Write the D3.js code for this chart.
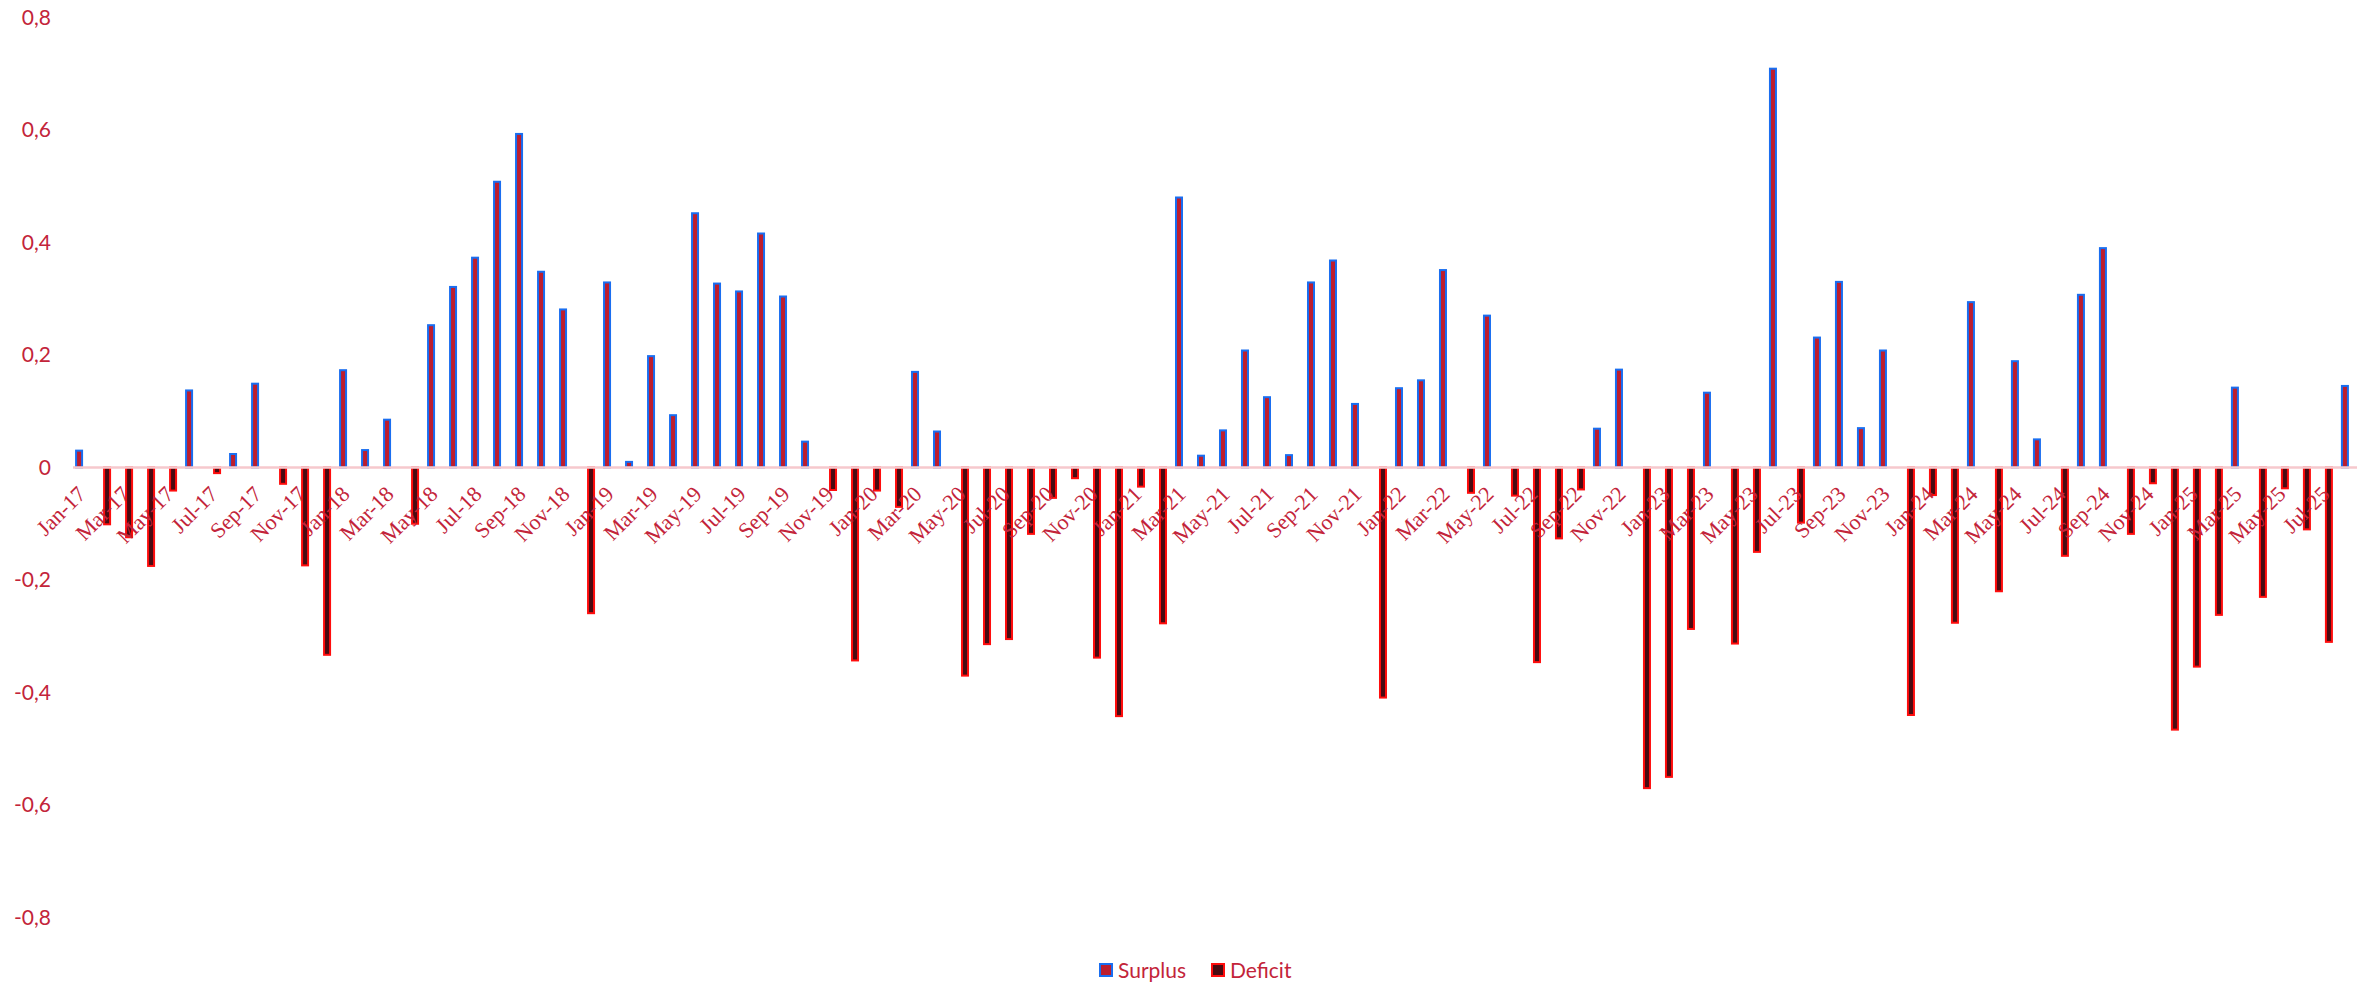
<!DOCTYPE html>
<html>
<head>
<meta charset="utf-8">
<script src="https://cdn.jsdelivr.net/npm/d3@7/dist/d3.min.js"></script>
<style>
  html, body { margin: 0; padding: 0; background: #ffffff; }
  svg { display: block; }
</style>
</head>
<body>
<svg id="chart" width="2374" height="983"></svg>
<script>
// Monthly categories, Jan 2017 – Aug 2025
const months = [
  "Jan-17","Feb-17","Mar-17","Apr-17","May-17","Jun-17","Jul-17","Aug-17","Sep-17","Oct-17","Nov-17","Dec-17",
  "Jan-18","Feb-18","Mar-18","Apr-18","May-18","Jun-18","Jul-18","Aug-18","Sep-18","Oct-18","Nov-18","Dec-18",
  "Jan-19","Feb-19","Mar-19","Apr-19","May-19","Jun-19","Jul-19","Aug-19","Sep-19","Oct-19","Nov-19","Dec-19",
  "Jan-20","Feb-20","Mar-20","Apr-20","May-20","Jun-20","Jul-20","Aug-20","Sep-20","Oct-20","Nov-20","Dec-20",
  "Jan-21","Feb-21","Mar-21","Apr-21","May-21","Jun-21","Jul-21","Aug-21","Sep-21","Oct-21","Nov-21","Dec-21",
  "Jan-22","Feb-22","Mar-22","Apr-22","May-22","Jun-22","Jul-22","Aug-22","Sep-22","Oct-22","Nov-22","Dec-22",
  "Jan-23","Feb-23","Mar-23","Apr-23","May-23","Jun-23","Jul-23","Aug-23","Sep-23","Oct-23","Nov-23","Dec-23",
  "Jan-24","Feb-24","Mar-24","Apr-24","May-24","Jun-24","Jul-24","Aug-24","Sep-24","Oct-24","Nov-24","Dec-24",
  "Jan-25","Feb-25","Mar-25","Apr-25","May-25","Jun-25","Jul-25","Aug-25"
];

// Positive months (0 where the month was in deficit)
const surplus = [
  0.030, 0, 0, 0, 0, 0.137, 0, 0.024, 0.149, 0, 0, 0,
  0.173, 0.031, 0.085, 0, 0.253, 0.321, 0.373, 0.508, 0.593, 0.348, 0.281, 0,
  0.329, 0.010, 0.198, 0.093, 0.452, 0.327, 0.313, 0.416, 0.304, 0.046, 0, 0,
  0, 0, 0.170, 0.064, 0, 0, 0, 0, 0, 0, 0, 0,
  0, 0, 0.480, 0.021, 0.066, 0.208, 0.125, 0.022, 0.329, 0.368, 0.113, 0,
  0.141, 0.155, 0.351, 0, 0.270, 0, 0, 0, 0, 0.069, 0.174, 0,
  0, 0, 0.133, 0, 0, 0.709, 0, 0.231, 0.330, 0.070, 0.208, 0,
  0, 0, 0.294, 0, 0.189, 0.050, 0, 0.307, 0.390, 0, 0, 0,
  0, 0, 0.142, 0, 0, 0, 0, 0.145
];

// Negative months (0 where the month was in surplus)
const deficit = [
  0, -0.101, -0.124, -0.175, -0.041, 0, -0.010, 0, 0, -0.029, -0.174, -0.333,
  0, 0, 0, -0.100, 0, 0, 0, 0, 0, 0, 0, -0.259,
  0, 0, 0, 0, 0, 0, 0, 0, 0, 0, -0.040, -0.343,
  -0.041, -0.070, 0, 0, -0.370, -0.314, -0.305, -0.118, -0.054, -0.019, -0.338, -0.442,
  -0.034, -0.277, 0, 0, 0, 0, 0, 0, 0, 0, 0, -0.409,
  0, 0, 0, -0.045, 0, -0.050, -0.346, -0.126, -0.039, 0, 0, -0.570,
  -0.550, -0.287, 0, -0.313, -0.150, 0, -0.098, 0, 0, 0, 0, -0.440,
  -0.049, -0.276, 0, -0.220, 0, 0, -0.157, 0, 0, -0.118, -0.028, -0.466,
  -0.354, -0.262, 0, -0.230, -0.037, -0.110, -0.310, 0
];

const seriesNames = ["Surplus", "Deficit"];
const yTickValues = [-0.8, -0.6, -0.4, -0.2, 0, 0.2, 0.4, 0.6, 0.8];
const xTickLabels = months.filter((m, i) => i % 2 === 0);

// Styling
const textColor = "#c3243a";
const styles = {
  Surplus: { fill: "#bd1e2e", stroke: "#1a6ef0" },
  Deficit: { fill: "#4a0b12", stroke: "#ff0d0d" }
};

const svg = d3.select("#chart");
const W = 2374, H = 983;
svg.append("rect").attr("width", W).attr("height", H).attr("fill", "#ffffff");

const plot = { left: 73, right: 2357, top: 17.5, bottom: 917.5 };

const x = d3.scaleBand()
  .domain(months)
  .range([plot.left, plot.right])
  .paddingInner(0.4545)
  .paddingOuter(0.14);

const xs = d3.scaleBand()
  .domain(seriesNames)
  .range([0, x.bandwidth()])
  .padding(0);

const y = d3.scaleLinear()
  .domain([-0.8, 0.8])
  .range([plot.bottom, plot.top]);

const locale = d3.formatLocale({ decimal: ",", thousands: ".", grouping: [3], currency: ["", ""], minus: "-" });
const fmt = locale.format("~g");

// Y axis labels
const yAxis = d3.axisLeft(y).tickValues(yTickValues).tickSize(0).tickPadding(0).tickFormat(fmt);
const gy = svg.append("g").attr("transform", "translate(51,0)").call(yAxis);
gy.select(".domain").remove();
gy.selectAll("text")
  .attr("fill", textColor)
  .style("font-family", "Lato, 'Noto Sans', sans-serif")
  .style("font-size", "21px");

// Bars
const rows = months.map((m, i) => ({ month: m, Surplus: surplus[i], Deficit: deficit[i] }));

const barGroups = svg.append("g").attr("class", "bars");
seriesNames.forEach(name => {
  barGroups.append("g")
    .selectAll("rect")
    .data(rows.filter(d => d[name] !== 0))
    .join("rect")
    .attr("x", d => x(d.month) + xs(name))
    .attr("width", xs.bandwidth())
    .attr("y", d => y(Math.max(0, d[name])))
    .attr("height", d => Math.abs(y(d[name]) - y(0)))
    .attr("fill", styles[name].fill)
    .attr("stroke", styles[name].stroke)
    .attr("stroke-width", 2);
});

// Zero line
svg.append("line")
  .attr("x1", plot.left).attr("x2", plot.right)
  .attr("y1", y(0)).attr("y2", y(0))
  .attr("stroke", "#f6c8cd")
  .attr("stroke-width", 2.5);

// X axis labels, every second month, rotated
const xAxis = d3.axisBottom(x).tickValues(xTickLabels).tickSize(0);
const gx = svg.append("g").attr("transform", `translate(0,${y(0)})`).call(xAxis);
gx.select(".domain").remove();
gx.selectAll("text")
  .attr("y", 0)
  .attr("dy", 0)
  .attr("text-anchor", "end")
  .attr("transform", "translate(5,28) rotate(-45)")
  .attr("fill", textColor)
  .style("font-family", "'Liberation Serif', 'Times New Roman', serif")
  .style("font-size", "22px");

// Legend
const legendX = [1099, 1211];
const legend = svg.append("g").attr("class", "legend");
seriesNames.forEach((name, i) => {
  const g = legend.append("g").attr("transform", `translate(${legendX[i]},963)`);
  g.append("rect")
    .attr("x", 1).attr("y", 1)
    .attr("width", 12).attr("height", 12)
    .attr("fill", styles[name].fill)
    .attr("stroke", styles[name].stroke)
    .attr("stroke-width", 2);
  g.append("text")
    .attr("x", 19).attr("y", 14.5)
    .attr("fill", textColor)
    .style("font-family", "Lato, 'Noto Sans', sans-serif")
    .style("font-size", "21px")
    .text(name);
});
</script>
</body>
</html>
